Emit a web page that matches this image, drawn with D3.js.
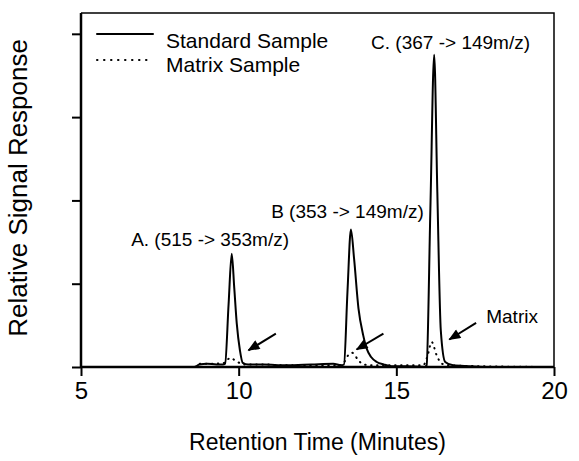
<!DOCTYPE html>
<html>
<head>
<meta charset="utf-8">
<script src="https://cdn.jsdelivr.net/npm/d3@7"></script>
<style>
	body { margin: 0; background: #fff; }
	text { font-family: "Liberation Sans", Arial, sans-serif; fill: #000; }
</style>
</head>
<body>
<svg width="579" height="461"></svg>
<script>
// chromatogram data (time in minutes, relative response)
var stdTimes = [5, 8.6, 8.75, 9.0, 9.3, 9.5, 9.57, 9.68, 9.78, 9.86, 9.94, 10.04, 10.13, 10.3, 10.8, 11.5, 12.3, 13.0, 13.25, 13.34, 13.45, 13.56, 13.66, 13.8, 13.95, 14.06, 14.2, 14.38, 14.6, 14.85, 15.3, 15.9, 15.96, 16.08, 16.2, 16.3, 16.41, 16.55, 16.8, 17.3, 18, 20];
var stdResp = [0, 0, 0.03, 0.04, 0.03, 0.03, 0.04, 0.75, 1.36, 0.95, 0.52, 0.2, 0.05, 0.03, 0.03, 0.02, 0.03, 0.04, 0.02, 0.03, 0.9, 1.65, 1.3, 0.7, 0.38, 0.22, 0.12, 0.06, 0.03, 0.01, 0.01, 0, 0.02, 1.9, 3.75, 2.1, 0.44, 0.06, 0.02, 0.01, 0, 0];

var matTimes = [5, 8.6, 8.75, 9.2, 9.55, 9.65, 9.75, 9.88, 10.02, 10.2, 10.8, 11.5, 12.5, 13.2, 13.35, 13.47, 13.6, 13.78, 13.95, 14.3, 15.0, 15.85, 15.98, 16.12, 16.28, 16.44, 16.7, 17.5, 20];
var matResp = [0, 0, 0.04, 0.04, 0.05, 0.09, 0.11, 0.08, 0.05, 0.03, 0.03, 0.02, 0.02, 0.02, 0.06, 0.14, 0.17, 0.09, 0.03, 0.02, 0.02, 0.02, 0.12, 0.3, 0.14, 0.04, 0.02, 0.01, 0];

var xTicks = [5, 10, 15, 20];
var yTicks = [0, 1, 2, 3, 4];

var legendNames = ["Standard Sample", "Matrix Sample"];

// peak labels, anchored in data units
var labelText = ["A. (515 -> 353m/z)", "B  (353 -> 149m/z)", "C. (367 -> 149m/z)", "Matrix"];
var labelTime = [6.59, 11.03, 14.2, 17.85];
var labelResp = [1.45, 1.79, 3.82, 0.53];

// arrows pointing at the matrix peaks (tail -> tip)
var arrowTail = [[11.18, 0.40], [14.59, 0.40], [17.53, 0.53]];
var arrowTip = [[10.31, 0.20], [13.74, 0.21], [16.68, 0.33]];

var svg = d3.select("svg"),
	margin = {top: 13, right: 25, bottom: 94, left: 81},
	width = svg.attr("width") - margin.left - margin.right,
	height = svg.attr("height") - margin.top - margin.bottom;

var x = d3.scaleLinear().domain([5, 20]).range([margin.left, margin.left + width]);
var y = d3.scaleLinear().domain([0, 4.25]).range([margin.top + height, margin.top]);

var defs = svg.append("defs");
defs.append("marker")
	.attr("id", "head")
	.attr("viewBox", "0 0 12 10")
	.attr("refX", 11)
	.attr("refY", 5)
	.attr("markerUnits", "userSpaceOnUse")
	.attr("markerWidth", 13)
	.attr("markerHeight", 10)
	.attr("orient", "auto")
	.append("path")
		.attr("d", "M0,0 L12,5 L0,10 Z")
		.attr("fill", "#000");

// frame (top and right edges)
svg.append("path")
	.attr("d", "M" + x(5) + "," + y(4.25) + " H" + x(20) + " V" + y(0))
	.attr("fill", "none")
	.attr("stroke", "#000")
	.attr("stroke-width", 1.5);

// axes
var xAxis = svg.append("g")
	.attr("transform", "translate(0," + y(0) + ")")
	.call(d3.axisBottom(x).tickValues(xTicks).tickSize(9).tickPadding(6).tickFormat(d3.format("d")));
xAxis.select(".domain").attr("stroke-width", 2.5).attr("d", "M" + x(5) + ",0 H" + x(20));
xAxis.selectAll(".tick line").attr("stroke-width", 2);
xAxis.selectAll(".tick text")
	.attr("font-family", "Liberation Sans, Arial, sans-serif")
	.attr("font-size", 24)
	.attr("fill", "#000");

var yAxis = svg.append("g")
	.attr("transform", "translate(" + x(5) + ",0)")
	.call(d3.axisLeft(y).tickValues(yTicks).tickSize(9).tickFormat(""));
yAxis.select(".domain").attr("stroke-width", 2.5).attr("d", "M0," + y(0) + " V" + y(4.25));
yAxis.selectAll(".tick line").attr("stroke-width", 2);

// axis titles
svg.append("text")
	.attr("x", x(12.5))
	.attr("y", 450)
	.attr("text-anchor", "middle")
	.attr("font-size", 23)
	.text("Retention Time (Minutes)");

svg.append("text")
	.attr("transform", "translate(27," + y(2.15) + ") rotate(-90)")
	.attr("text-anchor", "middle")
	.attr("font-size", 26)
	.text("Relative Signal Response");

// traces
var line = d3.line()
	.x(function(d) { return x(d[0]); })
	.y(function(d) { return y(d[1]); })
	.curve(d3.curveMonotoneX);

var stdData = stdTimes.map(function(t, i) { return [t, stdResp[i]]; });
var matData = matTimes.map(function(t, i) { return [t, matResp[i]]; });

svg.append("path")
	.datum(matData)
	.attr("d", line)
	.attr("fill", "none")
	.attr("stroke", "#000")
	.attr("stroke-width", 2)
	.attr("stroke-linecap", "round")
	.attr("stroke-dasharray", "0.5,5.5");

svg.append("path")
	.datum(stdData)
	.attr("d", line)
	.attr("fill", "none")
	.attr("stroke", "#000")
	.attr("stroke-width", 2)
	.attr("stroke-linejoin", "round");

// legend
var legend = svg.append("g");
legendNames.forEach(function(name, i) {
	var ly = 34 + i * 26;
	legend.append("line")
		.attr("x1", 97).attr("x2", 153)
		.attr("y1", ly).attr("y2", ly)
		.attr("stroke", "#000")
		.attr("stroke-width", 2)
		.attr("stroke-linecap", "round")
		.attr("stroke-dasharray", i === 0 ? null : "0.5,6.5");
	legend.append("text")
		.attr("x", 166)
		.attr("y", 48 + i * 24)
		.attr("font-size", 21)
		.text(name);
});

// peak labels
svg.selectAll("text.peak")
	.data(labelText)
	.enter().append("text")
		.attr("class", "peak")
		.attr("x", function(d, i) { return x(labelTime[i]); })
		.attr("y", function(d, i) { return y(labelResp[i]); })
		.attr("font-size", 19)
		.text(function(d) { return d; });

// arrows
svg.selectAll("line.arrow")
	.data(arrowTail)
	.enter().append("line")
		.attr("class", "arrow")
		.attr("x1", function(d) { return x(d[0]); })
		.attr("y1", function(d) { return y(d[1]); })
		.attr("x2", function(d, i) { return x(arrowTip[i][0]); })
		.attr("y2", function(d, i) { return y(arrowTip[i][1]); })
		.attr("stroke", "#000")
		.attr("stroke-width", 2)
		.attr("marker-end", "url(#head)");
</script>
</body>
</html>
